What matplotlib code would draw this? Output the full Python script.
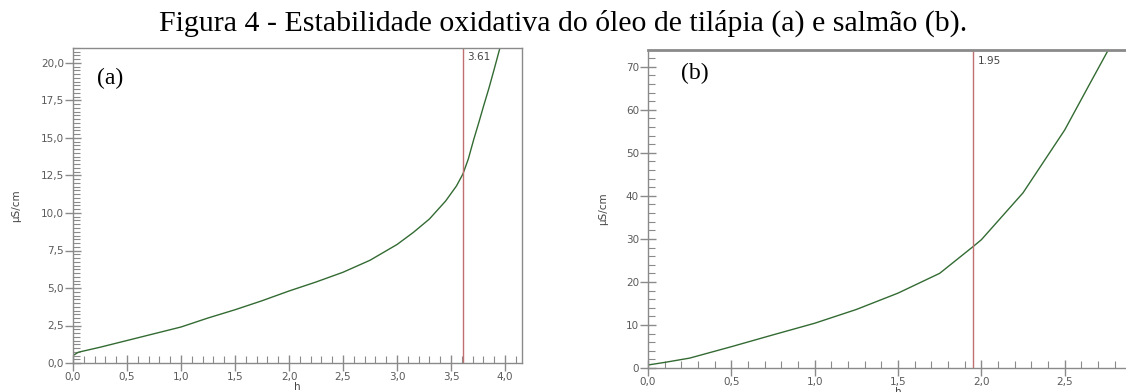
import matplotlib
matplotlib.use("Agg")
import matplotlib.pyplot as plt
from matplotlib.ticker import MultipleLocator, FuncFormatter

# Data (a) tilápia
xa = [0.0, 0.05, 0.25, 0.5, 0.75, 1.0, 1.25, 1.5, 1.75, 2.0, 2.25, 2.5, 2.75,
      3.0, 3.15, 3.3, 3.45, 3.55, 3.61, 3.66, 3.71, 3.76, 3.8, 3.85, 3.9, 3.96]
ya = [0.5, 0.72, 1.05, 1.5, 1.95, 2.4, 3.0, 3.55, 4.15, 4.8, 5.4, 6.05, 6.85,
      7.9, 8.7, 9.6, 10.8, 11.8, 12.6, 13.6, 14.9, 16.1, 17.1, 18.3, 19.6, 21.2]
ta = 3.61

# Data (b) salmão
xb = [0.0, 0.1, 0.25, 0.5, 0.75, 1.0, 1.25, 1.5, 1.75, 1.95, 2.0, 2.25, 2.5,
      2.65, 2.77]
yb = [0.7, 1.3, 2.3, 4.95, 7.7, 10.4, 13.6, 17.4, 22.0, 28.2, 29.8, 40.7,
      55.3, 66.0, 74.5]
tb = 1.95

W, H = 1126, 392
fig = plt.figure(figsize=(W / 100, H / 100), dpi=100)

def ax_rect(l, t, r, b):
    return [l / W, 1 - b / H, (r - l) / W, (b - t) / H]

grey = "#5a5a5a"
spine = "#8a8a8a"
green = "#336b33"
red = "#c07070"

comma = FuncFormatter(lambda v, p: ("%.1f" % v).replace(".", ","))
comma_b = FuncFormatter(lambda v, p: ("%.1f" % v).replace(".", ",") if v < 2.9 else "")

fig.text(0.5, 1 - 31 / H,
         "Figura 4 - Estabilidade oxidativa do óleo de tilápia (a) e salmão (b).",
         ha="center", va="baseline", fontsize=21.5, family="Liberation Serif")

# Panel (a)
ax1 = fig.add_axes(ax_rect(73, 48, 522, 363))
ax1.plot(xa, ya, color=green, lw=1.0)
ax1.axvline(ta, color=red, lw=1.0)
ax1.set_xlim(0, 4.157)
ax1.set_ylim(0, 21.0)
ax1.xaxis.set_major_locator(MultipleLocator(0.5))
ax1.xaxis.set_minor_locator(MultipleLocator(0.1))
ax1.yaxis.set_major_locator(MultipleLocator(2.5))
ax1.yaxis.set_minor_locator(MultipleLocator(0.25))
ax1.xaxis.set_major_formatter(comma)
ax1.yaxis.set_major_formatter(comma)
ax1.text(ta + 0.04, 20.4, "3.61", fontsize=7.5, color="#444444",
         va="center", ha="left")
ax1.text(0.22, 19.0, "(a)", fontsize=17, family="Liberation Serif",
         va="center", ha="left")
ax1.set_ylabel("µS/cm", fontsize=7.5, color="#444444", labelpad=14)
ax1.set_xlabel("h", fontsize=7.5, color="#444444", labelpad=0)

# Panel (b): axes runs past the right edge of the figure
ax2 = fig.add_axes(ax_rect(648, 50, 1148, 368))
ax2.plot(xb, yb, color=green, lw=1.0)
ax2.axvline(tb, color=red, lw=1.0)
ax2.set_xlim(0, 3.0)
ax2.set_ylim(0, 73.9)
ax2.xaxis.set_major_locator(MultipleLocator(0.5))
ax2.xaxis.set_minor_locator(MultipleLocator(0.1))
ax2.yaxis.set_major_locator(MultipleLocator(10))
ax2.yaxis.set_minor_locator(MultipleLocator(2))
ax2.xaxis.set_major_formatter(comma_b)
ax2.yaxis.set_major_formatter(FuncFormatter(lambda v, p: "%d" % v))
ax2.text(tb + 0.03, 71.3, "1.95", fontsize=7.5, color="#444444",
         va="center", ha="left")
ax2.text(0.2, 68.5, "(b)", fontsize=17, family="Liberation Serif",
         va="center", ha="left")
ax2.set_ylabel("µS/cm", fontsize=7.5, color="#444444", labelpad=13)
ax2.set_xlabel("h", fontsize=7.5, color="#444444", labelpad=0)

for ax in (ax1, ax2):
    for s in ax.spines.values():
        s.set_color(spine)
        s.set_linewidth(1.0)
    ax.tick_params(which="major", direction="inout", length=11, width=1.0,
                   color=spine, labelsize=7.5, labelcolor=grey, pad=1)
    ax.tick_params(which="minor", direction="in", length=5, width=0.8,
                   color=spine)
    ax.tick_params(top=False, right=False, which="both")
ax2.spines["top"].set_linewidth(2.0)

fig.savefig("out.png", dpi=100)
